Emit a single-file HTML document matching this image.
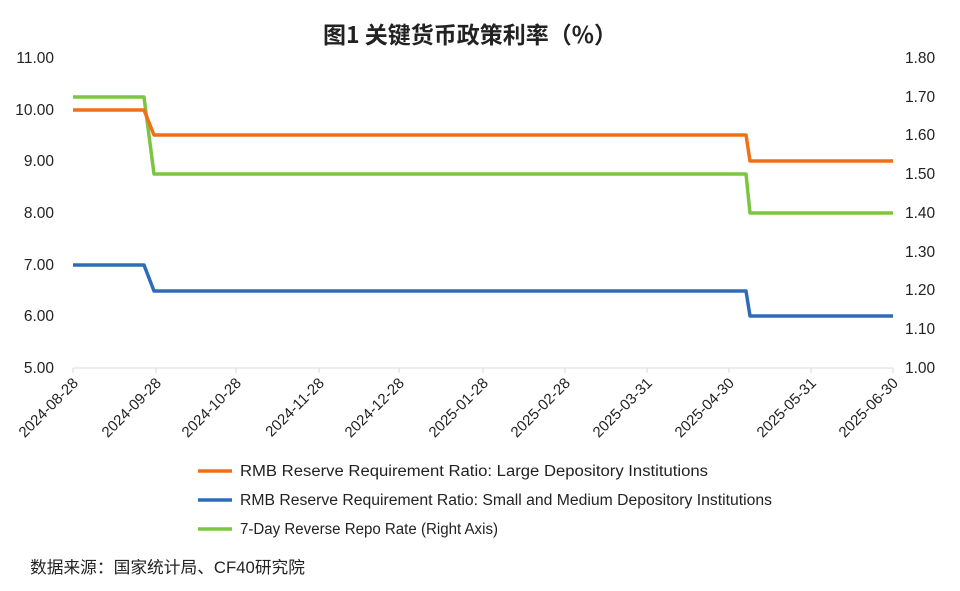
<!DOCTYPE html>
<html><head><meta charset="utf-8"><style>
body{margin:0;background:#fff;}
svg text{font-family:"Liberation Sans","Noto Sans CJK SC",sans-serif;fill:#222;}
</style></head><body>
<svg width="960" height="586" viewBox="0 0 960 586" xmlns="http://www.w3.org/2000/svg">
<rect width="960" height="586" fill="#fff"/>
<text x="470" y="43" text-anchor="middle" font-size="23" font-weight="bold" style="font-family:'Noto Sans CJK SC',sans-serif">图1 关键货币政策利率（%）</text>
<g font-size="15.5" text-anchor="end">
<text x="54" y="63">11.00</text><text x="54" y="115">10.00</text><text x="54" y="166">9.00</text><text x="54" y="218">8.00</text><text x="54" y="270">7.00</text><text x="54" y="321">6.00</text><text x="54" y="373">5.00</text>
</g>
<g font-size="15.5" text-anchor="start">
<text x="905" y="63">1.80</text><text x="905" y="102">1.70</text><text x="905" y="140">1.60</text><text x="905" y="179">1.50</text><text x="905" y="218">1.40</text><text x="905" y="257">1.30</text><text x="905" y="295">1.20</text><text x="905" y="334">1.10</text><text x="905" y="373">1.00</text>
</g>
<line x1="73" y1="368" x2="893" y2="368" stroke="#d9d9d9" stroke-width="1"/>
<g stroke="#d9d9d9" stroke-width="1">
<line x1="73" y1="368" x2="73" y2="373"/><line x1="156" y1="368" x2="156" y2="373"/><line x1="236" y1="368" x2="236" y2="373"/><line x1="319" y1="368" x2="319" y2="373"/><line x1="399" y1="368" x2="399" y2="373"/><line x1="483" y1="368" x2="483" y2="373"/><line x1="565" y1="368" x2="565" y2="373"/><line x1="647" y1="368" x2="647" y2="373"/><line x1="729" y1="368" x2="729" y2="373"/><line x1="811" y1="368" x2="811" y2="373"/><line x1="893" y1="368" x2="893" y2="373"/>
</g>
<g font-size="15" text-anchor="end">
<text transform="translate(79,384) rotate(-45)">2024-08-28</text>
<text transform="translate(162,384) rotate(-45)">2024-09-28</text>
<text transform="translate(242,384) rotate(-45)">2024-10-28</text>
<text transform="translate(325,384) rotate(-45)">2024-11-28</text>
<text transform="translate(405,384) rotate(-45)">2024-12-28</text>
<text transform="translate(489,384) rotate(-45)">2025-01-28</text>
<text transform="translate(571,384) rotate(-45)">2025-02-28</text>
<text transform="translate(653,384) rotate(-45)">2025-03-31</text>
<text transform="translate(735,384) rotate(-45)">2025-04-30</text>
<text transform="translate(817,384) rotate(-45)">2025-05-31</text>
<text transform="translate(899,384) rotate(-45)">2025-06-30</text>
</g>
<g fill="none" stroke-width="3.5" stroke-linejoin="round">
<polyline stroke="#7cc540" points="73,97 144,97 154,174 746,174 750,213 893,213"/>
<polyline stroke="#f26f1a" points="73,110 144,110 154,135 746,135 750,161 893,161"/>
<polyline stroke="#2e6bb8" points="73,265 144,265 154,291 746,291 750,316 893,316"/>
</g>
<g stroke-width="3.5">
<line x1="198" y1="471" x2="232" y2="471" stroke="#f26f1a"/>
<line x1="198" y1="500" x2="232" y2="500" stroke="#2e6bb8"/>
<line x1="198" y1="529" x2="232" y2="529" stroke="#7cc540"/>
</g>
<g font-size="15.5">
<text x="240" y="476" textLength="468" lengthAdjust="spacingAndGlyphs">RMB Reserve Requirement Ratio: Large Depository Institutions</text>
<text x="240" y="505" textLength="532" lengthAdjust="spacingAndGlyphs">RMB Reserve Requirement Ratio: Small and Medium Depository Institutions</text>
<text x="240" y="534" textLength="258" lengthAdjust="spacingAndGlyphs">7-Day Reverse Repo Rate (Right Axis)</text>
</g>
<text x="30" y="573" font-size="16.5" textLength="275" lengthAdjust="spacingAndGlyphs">数据来源：国家统计局、CF40研究院</text>
</svg>
</body></html>
